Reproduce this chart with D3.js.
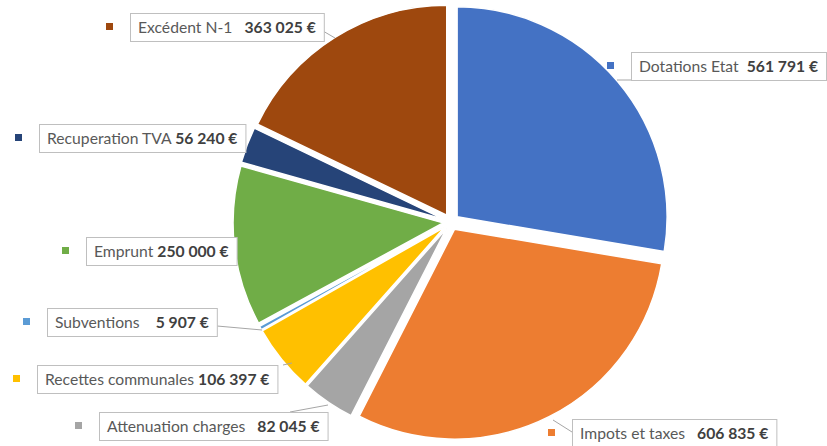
<!DOCTYPE html>
<html>
<head>
<meta charset="utf-8">
<script src="https://cdn.jsdelivr.net/npm/d3@7"></script>
<style>
  body { margin: 0; background: #fff; }
  svg { display: block; font-family: Lato, "Noto Sans", sans-serif; }
</style>
</head>
<body>
<svg id="chart" width="827" height="446"></svg>
<script>
const categories = ["Dotations Etat", "Impots et taxes", "Attenuation charges", "Recettes communales",
                    "Subventions", "Emprunt", "Recuperation TVA", "Excédent N-1"]
const values = [561791, 606835, 82045, 106397, 5907, 250000, 56240, 363025]
const valueLabels = ["561 791 €", "606 835 €", "82 045 €", "106 397 €", "5 907 €", "250 000 €", "56 240 €", "363 025 €"]
const colors = ["#4472C4", "#ED7D31", "#A5A5A5", "#FFC000", "#5B9BD5", "#70AD47", "#264478", "#9E480E"]

// label boxes (top-left corner)
const boxPos = [[631, 52], [572, 419], [99, 412], [37, 365], [47, 308], [86, 237], [39, 124], [130, 13]]
const gapText = ["  ", "   ", "   ", " ", "    ", " ", " ", "   "]

const svg = d3.select('#chart')
const cx = 451, cy = 222, R = 210, explode = 8

const pie = d3.pie().sort(null).value(d => d)
const arcs = pie(values)
const arc = d3.arc().innerRadius(0).outerRadius(R)

const g = svg.append('g').attr('transform', 'translate(' + cx + ',' + cy + ')')

g.selectAll('path')
  .data(arcs)
  .enter()
  .append('path')
    .attr('d', arc)
    .attr('fill', (d, i) => colors[i])
    .attr('stroke', '#fff')
    .attr('stroke-width', 1.5)
    .attr('transform', d => {
      const a = (d.startAngle + d.endAngle) / 2
      return 'translate(' + (Math.sin(a) * explode) + ',' + (-Math.cos(a) * explode) + ')'
    })

// leader lines
const leaders = [
  [[617, 80], [665, 80]],
  [[553, 420], [572, 432]],
  [[328, 405], [290, 412]],
  [[292, 363], [283, 365]],
  [[262, 330], [217, 326]],
  null,
  null,
  [[335, 38], [323, 31]]
]
leaders.forEach(l => {
  if (!l) return
  svg.append('line')
    .attr('x1', l[0][0]).attr('y1', l[0][1])
    .attr('x2', l[1][0]).attr('y2', l[1][1])
    .attr('stroke', '#A6A6A6')
    .attr('stroke-width', 1)
})

// labels
categories.forEach((c, i) => {
  const [bx, by] = boxPos[i]
  const lg = svg.append('g')
  const rect = lg.append('rect')
    .attr('x', bx + 0.5).attr('y', by + 0.5)
    .attr('height', 28)
    .attr('fill', '#fff')
    .attr('stroke', '#BFBFBF')
    .attr('stroke-width', 1)
  const t = lg.append('text')
    .attr('x', bx + 8)
    .attr('y', by + 19.5)
    .attr('font-size', '15.7px')
    .attr('fill', '#595959')
    .attr('xml:space', 'preserve')
  t.append('tspan').text(c + gapText[i])
  t.append('tspan').attr('font-weight', 'bold').attr('fill', '#404040').text(valueLabels[i])
  const w = t.node().getComputedTextLength()
  rect.attr('width', w + 16)

  svg.append('rect')
    .attr('x', bx - 24).attr('y', by + 10)
    .attr('width', 7).attr('height', 7)
    .attr('fill', colors[i])
})
</script>
</body>
</html>
